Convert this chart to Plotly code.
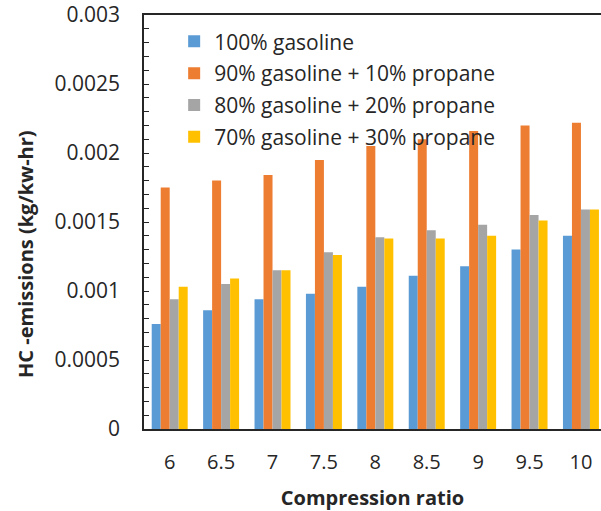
import plotly.graph_objects as go

categories = ["6", "6.5", "7", "7.5", "8", "8.5", "9", "9.5", "10"]
gas100 = [0.00076, 0.00086, 0.00094, 0.00098, 0.00103, 0.00111, 0.00118, 0.00130, 0.00140]
gas90 = [0.00175, 0.00180, 0.00184, 0.00195, 0.00205, 0.00210, 0.00216, 0.00220, 0.00222]
gas80 = [0.00094, 0.00105, 0.00115, 0.00128, 0.00139, 0.00144, 0.00148, 0.00155, 0.00159]
gas70 = [0.00103, 0.00109, 0.00115, 0.00126, 0.00138, 0.00138, 0.00140, 0.00151, 0.00159]
names = ["100% gasoline", "90% gasoline + 10% propane",
         "80% gasoline + 20% propane", "70% gasoline + 30% propane"]
colors = ["#5B9BD5", "#ED7D31", "#A5A5A5", "#FFC000"]

FONT = "Open Sans"
fig = go.Figure()
for n, vals, c in zip(names, [gas100, gas90, gas80, gas70], colors):
    fig.add_trace(go.Bar(x=categories, y=vals, name=n, marker_color=c,
                         marker_line_width=0, legendgroup=n))

fig.update_layout(
    width=601, height=511,
    margin=dict(l=144, r=0, t=15, b=82),
    paper_bgcolor="white", plot_bgcolor="white",
    barmode="group", bargap=0.3, bargroupgap=0,
    font=dict(family=FONT, size=20, color="#404040"),
    legend=dict(x=0.066, y=0.985, xanchor="left", yanchor="top",
                traceorder="grouped", tracegroupgap=1.5,
                bgcolor="rgba(0,0,0,0)", font=dict(size=21, color="#262626")),
    annotations=[dict(text="<b>HC -emissions (kg/kw-hr)</b>", textangle=-90,
                      xref="paper", yref="paper", x=-0.258, y=0.423,
                      xanchor="center", yanchor="middle", showarrow=False,
                      font=dict(size=20, color="#262626"))],
)
fig.update_xaxes(
    type="category", range=[-0.5, 8.39],
    showline=True, linecolor="#262626", linewidth=1.5, mirror=True,
    ticks="", showgrid=False, ticklabelstandoff=14,
    tickfont=dict(size=20, color="#262626"),
    title=dict(text="<b>Compression ratio</b>", font=dict(size=20, color="#262626"), standoff=20),
)
fig.update_yaxes(
    range=[0, 0.003], dtick=0.0005, tickformat="~g",
    showline=True, linecolor="#262626", linewidth=1.5,
    ticks="inside", ticklen=5, tickcolor="#262626",
    minor=dict(dtick=0.0001, ticks="inside", ticklen=5, tickcolor="#262626"),
    showgrid=False, zeroline=False, ticklabelstandoff=18,
    tickfont=dict(size=21, color="#262626"),
)
fig.write_html("out.html")
